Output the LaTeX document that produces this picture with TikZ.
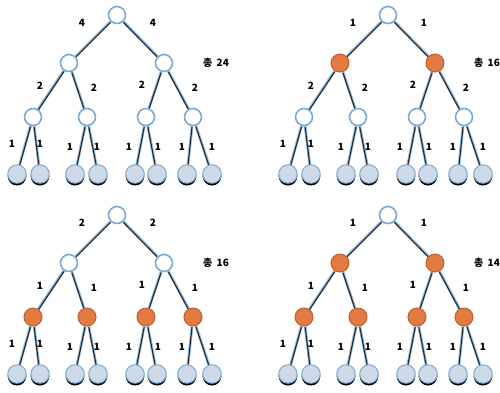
\documentclass[tikz,border=0pt]{standalone}
\usepackage{fontspec}
\newfontfamily\krfont{Noto Sans CJK KR}
\usetikzlibrary{backgrounds}
\definecolor{nodeblue}{RGB}{125,170,210}
\definecolor{edgeblue}{RGB}{150,190,225}
\definecolor{leaffill}{RGB}{206,218,232}
\definecolor{orfill}{RGB}{226,122,66}
\definecolor{ordraw}{RGB}{190,95,45}
\tikzset{
  whitenode/.style={circle,draw=nodeblue,fill=white,line width=1.6pt,minimum size=17pt,inner sep=0pt},
  orangenode/.style={circle,draw=ordraw,fill=orfill,line width=1pt,minimum size=18pt,inner sep=0pt},
  leafnode/.style={circle,draw=nodeblue,fill=leaffill,line width=1pt,minimum size=18.5pt,inner sep=0pt},
  edgeglow/.style={draw=edgeblue,line width=2.8pt},
  edgecore/.style={draw=black!85,line width=1.1pt},
  lbl/.style={font=\krfont\bfseries\fontsize{10}{10}\selectfont,inner sep=0pt},
}
\newcommand\edgepair[2]{%
  \draw[edgeglow] (#1) -- (#2);
  \draw[edgecore,transform canvas={yshift=-0.8pt}] (#1) -- (#2);}
\newcommand\drawtree[8]{%
\begin{scope}[shift={(#1,#2)}]
  \node[whitenode] (#3r) at (117,15) {};
  \node[#4] (#3a) at (69,63) {};
  \node[#4] (#3b) at (164,63) {};
  \node[#5] (#3c) at (33,117) {};
  \node[#5] (#3d) at (87,117) {};
  \node[#5] (#3e) at (146,117) {};
  \node[#5] (#3f) at (193,117) {};
  \foreach \i/\xx in {1/17,2/40,3/75,4/98,5/135,6/157,7/187,8/212}{
    \fill[black] (\xx,176.2) circle[radius=9.3pt];
    \node[leafnode] (#3l\i) at (\xx,174) {};
  }
  \begin{pgfonlayer}{background}
    \edgepair{#3r}{#3a}\edgepair{#3r}{#3b}
    \edgepair{#3a}{#3c}\edgepair{#3a}{#3d}
    \edgepair{#3b}{#3e}\edgepair{#3b}{#3f}
    \edgepair{#3c}{#3l1}\edgepair{#3c}{#3l2}
    \edgepair{#3d}{#3l3}\edgepair{#3d}{#3l4}
    \edgepair{#3e}{#3l5}\edgepair{#3e}{#3l6}
    \edgepair{#3f}{#3l7}\edgepair{#3f}{#3l8}
  \end{pgfonlayer}
  \node[lbl] (#3t1) at (82,23) {#6};
  \node[lbl] (#3t2) at (153,23) {#6};
  \node[lbl] (#3t3) at (40,86) {#7};
  \node[lbl] (#3t4) at (94,88) {#7};
  \node[lbl] (#3t5) at (142,85) {#7};
  \node[lbl] (#3t6) at (195,88) {#7};
  \foreach \j/\xx/\yy in {1/12/144,2/40/144,3/70/147,4/97/147,5/129/147,6/158/147,7/182/147,8/212/147}{
    \node[lbl] (#3u\j) at (\xx,\yy) {1};
  }
  \node[lbl,anchor=west] (#3tot) at (203,63) {총};
  \node[lbl,anchor=west] (#3num) at (216.5,63) {#8};
\end{scope}}
\begin{document}
\begin{tikzpicture}[x=1pt,y=-1pt]
\useasboundingbox (0,0) rectangle (500,392);
\drawtree{0}{0}{A}{whitenode}{whitenode}{4}{2}{24}
\drawtree{271}{0}{B}{orangenode}{whitenode}{1}{2}{16}
\drawtree{0}{200}{C}{whitenode}{orangenode}{2}{1}{16}
\drawtree{271}{200}{D}{orangenode}{orangenode}{1}{1}{14}
\end{tikzpicture}
\end{document}
